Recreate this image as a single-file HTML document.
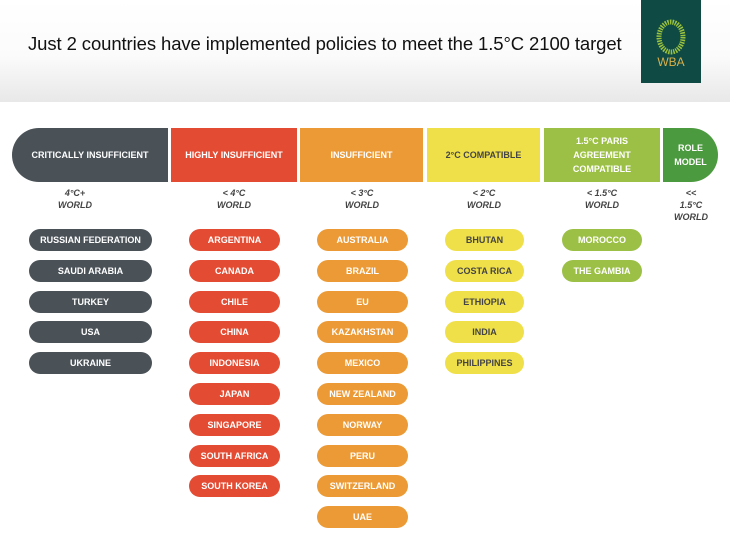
<!DOCTYPE html><html><head><style>
body{margin:0;width:730px;height:547px;background:#fff;font-family:"Liberation Sans",sans-serif;position:relative;overflow:hidden}
.hdr{position:absolute;left:0;top:0;width:730px;height:102px;background:linear-gradient(#fff,#fbfbfb 55%,#e8e8e8)}
.t{position:absolute;left:28px;top:33px;font-size:18.5px;color:#111;letter-spacing:-0.1px}
.logo{position:absolute;left:641px;top:0;width:60px;height:83px;background:#0f4a45}
.seg{position:absolute;top:128px;height:54px;color:#fff;font-weight:bold;font-size:9px;display:flex;align-items:center;justify-content:center;text-align:center;line-height:14px}
.w{position:absolute;top:187px;font-style:italic;font-weight:bold;font-size:9px;color:#444;text-align:center;line-height:12px}
.p{position:absolute;height:22px;border-radius:11px;color:#fff;font-weight:bold;font-size:9px;display:flex;align-items:center;justify-content:center}
</style></head><body>
<div class="hdr"></div>
<div class="t">Just 2 countries have implemented policies to meet the 1.5°C 2100 target</div>
<div class="logo"><svg width="60" height="83"><ellipse cx="30" cy="37" rx="12" ry="15" fill="none" stroke="#9bc23c" stroke-width="5" stroke-dasharray="1.5 1"/><text x="30" y="66" font-size="12" fill="#d9b04a" text-anchor="middle" font-family="Liberation Sans">WBA</text></svg></div>
<div class="seg" style="left:12px;width:156px;background:#4a5258;border-radius:27px 0 0 27px">CRITICALLY INSUFFICIENT</div>
<div class="seg" style="left:171px;width:126px;background:#e34b32">HIGHLY INSUFFICIENT</div>
<div class="seg" style="left:300px;width:123px;background:#ec9a35">INSUFFICIENT</div>
<div class="seg" style="left:427px;width:113px;background:#efe04a;color:#444">2°C COMPATIBLE</div>
<div class="seg" style="left:544px;width:116px;background:#9cc046">1.5°C PARIS<br>AGREEMENT<br>COMPATIBLE</div>
<div class="seg" style="left:663px;width:55px;background:#4c9a3f;border-radius:0 27px 27px 0">ROLE<br>MODEL</div>
<div class="w" style="left:40px;width:70px">4°C+<br>WORLD</div>
<div class="w" style="left:199px;width:70px">&lt; 4°C<br>WORLD</div>
<div class="w" style="left:327px;width:70px">&lt; 3°C<br>WORLD</div>
<div class="w" style="left:449px;width:70px">&lt; 2°C<br>WORLD</div>
<div class="w" style="left:567px;width:70px">&lt; 1.5°C<br>WORLD</div>
<div class="w" style="left:670px;width:42px">&lt;&lt;<br>1.5°C<br>WORLD</div>
<div id="c"></div>
<script>
var cols=[[29,123,"#4a5258","#fff",["RUSSIAN FEDERATION","SAUDI ARABIA","TURKEY","USA","UKRAINE"]],
[189,91,"#e34b32","#fff",["ARGENTINA","CANADA","CHILE","CHINA","INDONESIA","JAPAN","SINGAPORE","SOUTH AFRICA","SOUTH KOREA"]],
[317,91,"#ec9a35","#fff",["AUSTRALIA","BRAZIL","EU","KAZAKHSTAN","MEXICO","NEW ZEALAND","NORWAY","PERU","SWITZERLAND","UAE"]],
[445,79,"#efe04a","#444",["BHUTAN","COSTA RICA","ETHIOPIA","INDIA","PHILIPPINES"]],
[562,80,"#9cc046","#fff",["MOROCCO","THE GAMBIA"]]];
var h="";cols.forEach(function(c){c[4].forEach(function(n,i){h+='<div class="p" style="left:'+c[0]+'px;width:'+c[1]+'px;top:'+(229+i*30.8)+'px;background:'+c[2]+';color:'+c[3]+'">'+n+'</div>';});});
document.getElementById("c").innerHTML=h;
</script>
</body></html>
